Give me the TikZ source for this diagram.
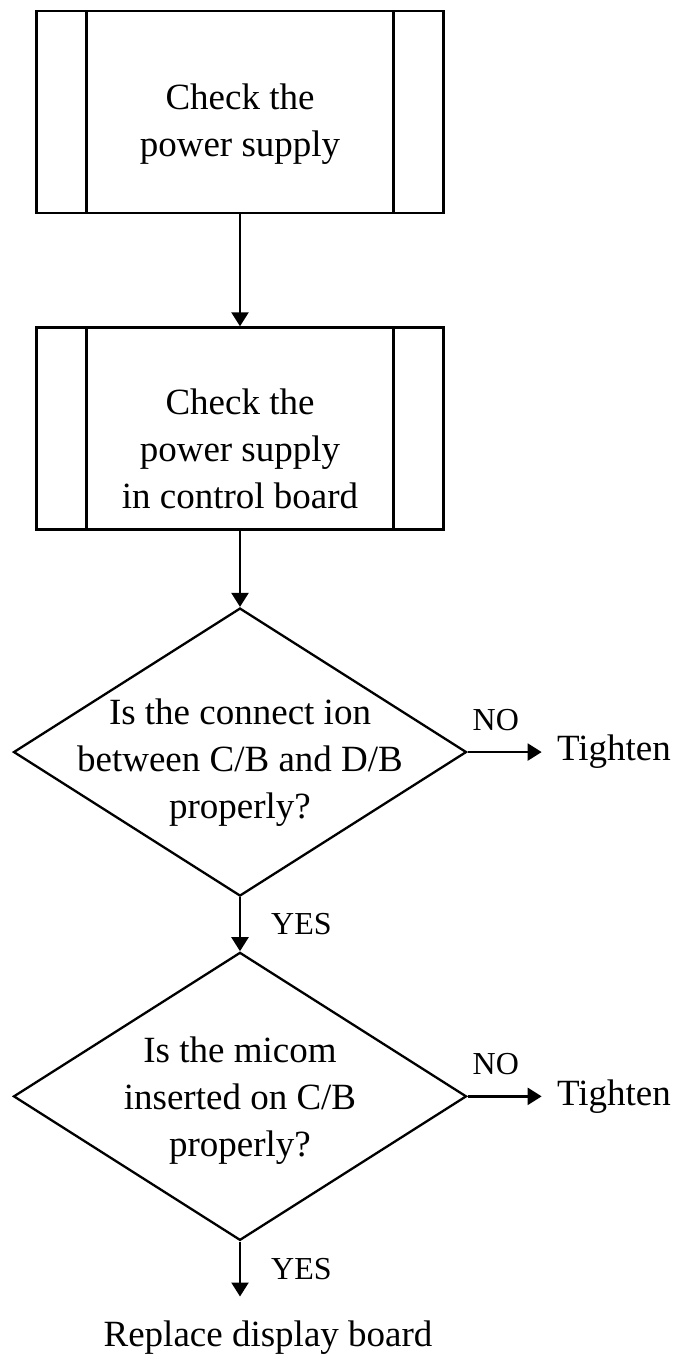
\documentclass[tikz,border=0pt]{standalone}
\usepackage{fontspec}
\setmainfont{Liberation Serif}
\usetikzlibrary{arrows.meta}
\usetikzlibrary{positioning}
\usetikzlibrary{shapes.geometric}

\tikzset{
	subproc/.style={draw, line width=1.3pt, minimum width=203.5pt, minimum height=101pt,
		path picture={\draw[line width=1.3pt]
			([xshift=25pt]path picture bounding box.north west) -- ([xshift=25pt]path picture bounding box.south west)
			([xshift=-25pt]path picture bounding box.north east) -- ([xshift=-25pt]path picture bounding box.south east);}},
	decision/.style={diamond, draw, line width=1.15pt, minimum width=226.5pt, minimum height=144pt, inner sep=0pt},
	words/.style={align=center, font=\fontsize{18.5pt}{23.5pt}\selectfont},
	answer/.style={font=\fontsize{16pt}{19pt}\selectfont, inner sep=3pt},
	outcome/.style={words, inner xsep=7.5pt},
	flow/.style={-{Triangle[length=7pt,width=8.5pt]}, line width=1.15pt}
}

\begin{document}
\begin{tikzpicture}[node distance=56pt]
	\useasboundingbox (0,0) rectangle (337.5pt,-682.5pt);
	\node[subproc] (chk1) at (120pt,-56pt) {};
	\node[subproc] (chk2) [below=of chk1] {};
	\node[decision] (ask1) [below=38pt of chk2] {};
	\node[decision] (ask2) [below=27pt of ask1] {};
	\node[outcome] (fix1) [right=37pt of ask1] {Tighten};
	\node[outcome] (fix2) [right=37pt of ask2] {Tighten};
	\node[outcome, inner ysep=12pt] (swap) [below=27.5pt of ask2, xshift=14pt] {Replace display board};
	\node[words] (chk1txt) at ([yshift=-6pt]chk1) {Check the\\power supply};
	\node[words] (chk2txt) at ([yshift=-10pt]chk2) {Check the\\power supply\\in control board};
	\node[words] (ask1txt) at ([yshift=-5.5pt]ask1) {Is the connect ion\\between C/B and D/B\\properly?};
	\node[words] (ask2txt) at ([yshift=-2pt]ask2) {Is the micom\\inserted on C/B\\properly?};
	\path[flow]	(chk1) edge (chk2)
			(chk2) edge (ask1)
			(ask1) edge node[answer, above=7pt, pos=0.38] {NO} (fix1)
			(ask1) edge node[answer, right=12pt] {YES} (ask2)
			(ask2) edge node[answer, above=7pt, pos=0.38] {NO} (fix2)
			(ask2.south) edge node[answer, right=12pt] {YES} (ask2.south |- swap.north);
\end{tikzpicture}
\end{document}
